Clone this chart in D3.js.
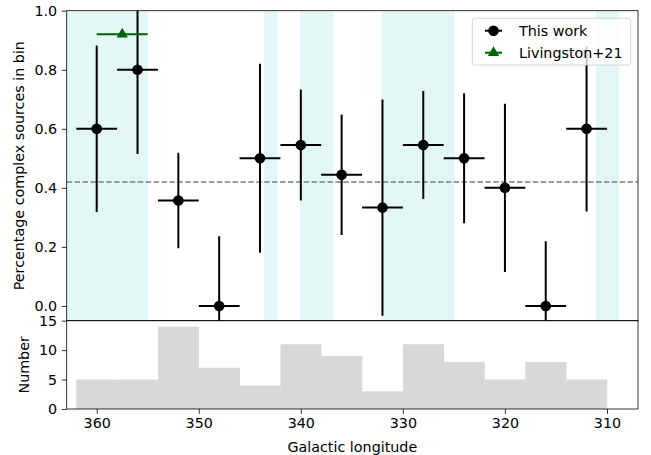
<!DOCTYPE html>
<html><head><meta charset="utf-8">
<script src="https://cdn.jsdelivr.net/npm/d3@7"></script>
<style>
body{margin:0;background:#fff;}
text{font-family:"DejaVu Sans",sans-serif;}
</style></head>
<body><svg id="c" width="651" height="455"></svg>
<script>
// ---- data ----
const longitudes = [360,356,352,348,344,340,336,332,328,324,320,316,312];
const fractions  = [0.6,0.8,0.357,0.0,0.5,0.545,0.444,0.333,0.545,0.5,0.4,0.0,0.6];
const fracErr    = [0.282,0.285,0.162,0.236,0.32,0.188,0.204,0.366,0.183,0.22,0.285,0.219,0.28];
const lonHalfWidth = 2;
const livLon = [357.5];
const livFrac = [0.92];
const livHalfWidth = 2.5;
const meanFraction = 0.42;
const shadedSpans = [[366,355],[343.6,342.3],[340.1,336.8],[332.1,324.9],[311.1,308.8]];
const binEdges = [362,358,354,350,346,342,338,334,330,326,322,318,314,310];
const binCounts = [5,5,14,7,4,11,9,3,11,8,5,8,5];
const topTicks = [0.0,0.2,0.4,0.6,0.8,1.0];
const botTicks = [0,5,10,15];
const xTicks = [360,350,340,330,320,310];
const legendLabels = ["This work","Livingston+21"];

// ---- layout ----
const svg = d3.select("#c");
const L=66.7, R=638, T=10.7, MID=320.7, B=409;
const x = d3.scaleLinear().domain([362.94,306.96]).range([L,R]);
const yT = d3.scaleLinear().domain([-0.05,1.0]).range([MID,T]);
const yB = d3.scaleLinear().domain([0,15]).range([B,MID]);
const FS = 14.3;

svg.append("defs").append("clipPath").attr("id","clipT")
  .append("rect").attr("x",L).attr("y",T).attr("width",R-L).attr("height",MID-T);
svg.select("defs").append("clipPath").attr("id","clipB")
  .append("rect").attr("x",L).attr("y",MID).attr("width",R-L).attr("height",B-MID);

// ---- top panel ----
const gT = svg.append("g").attr("clip-path","url(#clipT)");
gT.selectAll("rect.span").data(shadedSpans).join("rect")
  .attr("x",d=>x(d[0])).attr("width",d=>x(d[1])-x(d[0]))
  .attr("y",T).attr("height",MID-T).attr("fill","#e3f7f7");
gT.append("line").attr("x1",L).attr("x2",R).attr("y1",yT(meanFraction)).attr("y2",yT(meanFraction))
  .attr("stroke","#7f7f7f").attr("stroke-width",1.5).attr("stroke-dasharray","5.5,2.4");
const pts = longitudes.map((l,i)=>({l,f:fractions[i],e:fracErr[i]}));
gT.selectAll("line.ev").data(pts).join("line")
  .attr("x1",d=>x(d.l)).attr("x2",d=>x(d.l)).attr("y1",d=>yT(d.f-d.e)).attr("y2",d=>yT(d.f+d.e))
  .attr("stroke","#000").attr("stroke-width",2);
gT.selectAll("line.eh").data(pts).join("line")
  .attr("x1",d=>x(d.l+lonHalfWidth)).attr("x2",d=>x(d.l-lonHalfWidth)).attr("y1",d=>yT(d.f)).attr("y2",d=>yT(d.f))
  .attr("stroke","#000").attr("stroke-width",2);
gT.selectAll("circle.pt").data(pts).join("circle")
  .attr("cx",d=>x(d.l)).attr("cy",d=>yT(d.f)).attr("r",5.3).attr("fill","#000");
const liv = livLon.map((l,i)=>({l,f:livFrac[i]}));
gT.selectAll("line.lh").data(liv).join("line")
  .attr("x1",d=>x(d.l+livHalfWidth)).attr("x2",d=>x(d.l-livHalfWidth)).attr("y1",d=>yT(d.f)).attr("y2",d=>yT(d.f))
  .attr("stroke","#006400").attr("stroke-width",2);
const tri = d3.symbol().type(d3.symbolTriangle).size(55);
gT.selectAll("path.lt").data(liv).join("path")
  .attr("d",tri).attr("transform",d=>`translate(${x(d.l)},${yT(d.f)})`).attr("fill","#006400");

// ---- bottom panel ----
const gB = svg.append("g").attr("clip-path","url(#clipB)");
const bins = binCounts.map((c,i)=>({x0:binEdges[i],x1:binEdges[i+1],c}));
gB.selectAll("rect.bin").data(bins).join("rect")
  .attr("x",d=>x(d.x0)).attr("width",d=>x(d.x1)-x(d.x0)+0.3)
  .attr("y",d=>yB(d.c)).attr("height",d=>B-yB(d.c)).attr("fill","#d8d8d8");

// ---- axes ----
const ax = (g,axis)=>{ g.call(axis); g.select(".domain").remove();
  g.selectAll(".tick line").attr("stroke","#000").attr("stroke-width",0.8);
  g.selectAll(".tick text").attr("font-size",FS).attr("fill","#000").attr("font-family","DejaVu Sans");};
ax(svg.append("g").attr("transform",`translate(${L},0)`),
   d3.axisLeft(yT).tickValues(topTicks).tickFormat(d3.format(".1f")).tickSize(4.9).tickPadding(4.6));
ax(svg.append("g").attr("transform",`translate(${L},0)`),
   d3.axisLeft(yB).tickValues(botTicks).tickFormat(d3.format("d")).tickSize(4.9).tickPadding(4.6));
ax(svg.append("g").attr("transform",`translate(0,${B})`),
   d3.axisBottom(x).tickValues(xTicks).tickFormat(d3.format("d")).tickSize(4.9).tickPadding(3.6));

// frames
[[T,MID],[MID,B]].forEach(([a,b])=>{
  svg.append("rect").attr("x",L).attr("y",a).attr("width",R-L).attr("height",b-a)
    .attr("fill","none").attr("stroke","#000").attr("stroke-width",0.8);
});

// labels
svg.append("text").attr("transform",`translate(24,${(T+MID)/2}) rotate(-90)`)
  .attr("text-anchor","middle").attr("font-size",FS).text("Percentage complex sources in bin");
svg.append("text").attr("transform",`translate(29,${(MID+B)/2}) rotate(-90)`)
  .attr("text-anchor","middle").attr("font-size",FS).text("Number");
svg.append("text").attr("x",(L+R)/2).attr("y",451.5).attr("text-anchor","middle")
  .attr("font-size",FS).text("Galactic longitude");

// legend
const lg = svg.append("g");
lg.append("rect").attr("x",472.3).attr("y",18.3).attr("width",158.4).attr("height",46.7).attr("rx",2.5)
  .attr("fill","#fff").attr("fill-opacity",0.8).attr("stroke","#cccccc").attr("stroke-width",0.8);
const ly = [30.7,52.7];
lg.append("line").attr("x1",485).attr("x2",502).attr("y1",ly[0]).attr("y2",ly[0]).attr("stroke","#000").attr("stroke-width",2);
lg.append("circle").attr("cx",493.5).attr("cy",ly[0]).attr("r",5.3).attr("fill","#000");
lg.append("line").attr("x1",485).attr("x2",502).attr("y1",ly[1]).attr("y2",ly[1]).attr("stroke","#006400").attr("stroke-width",2);
lg.append("path").attr("d",tri).attr("transform",`translate(493.5,${ly[1]})`).attr("fill","#006400");
lg.selectAll("text.lt").data(legendLabels).join("text")
  .attr("x",519).attr("y",(d,i)=>ly[i]+5).attr("font-size",FS).text(d=>d);
</script></body></html>
